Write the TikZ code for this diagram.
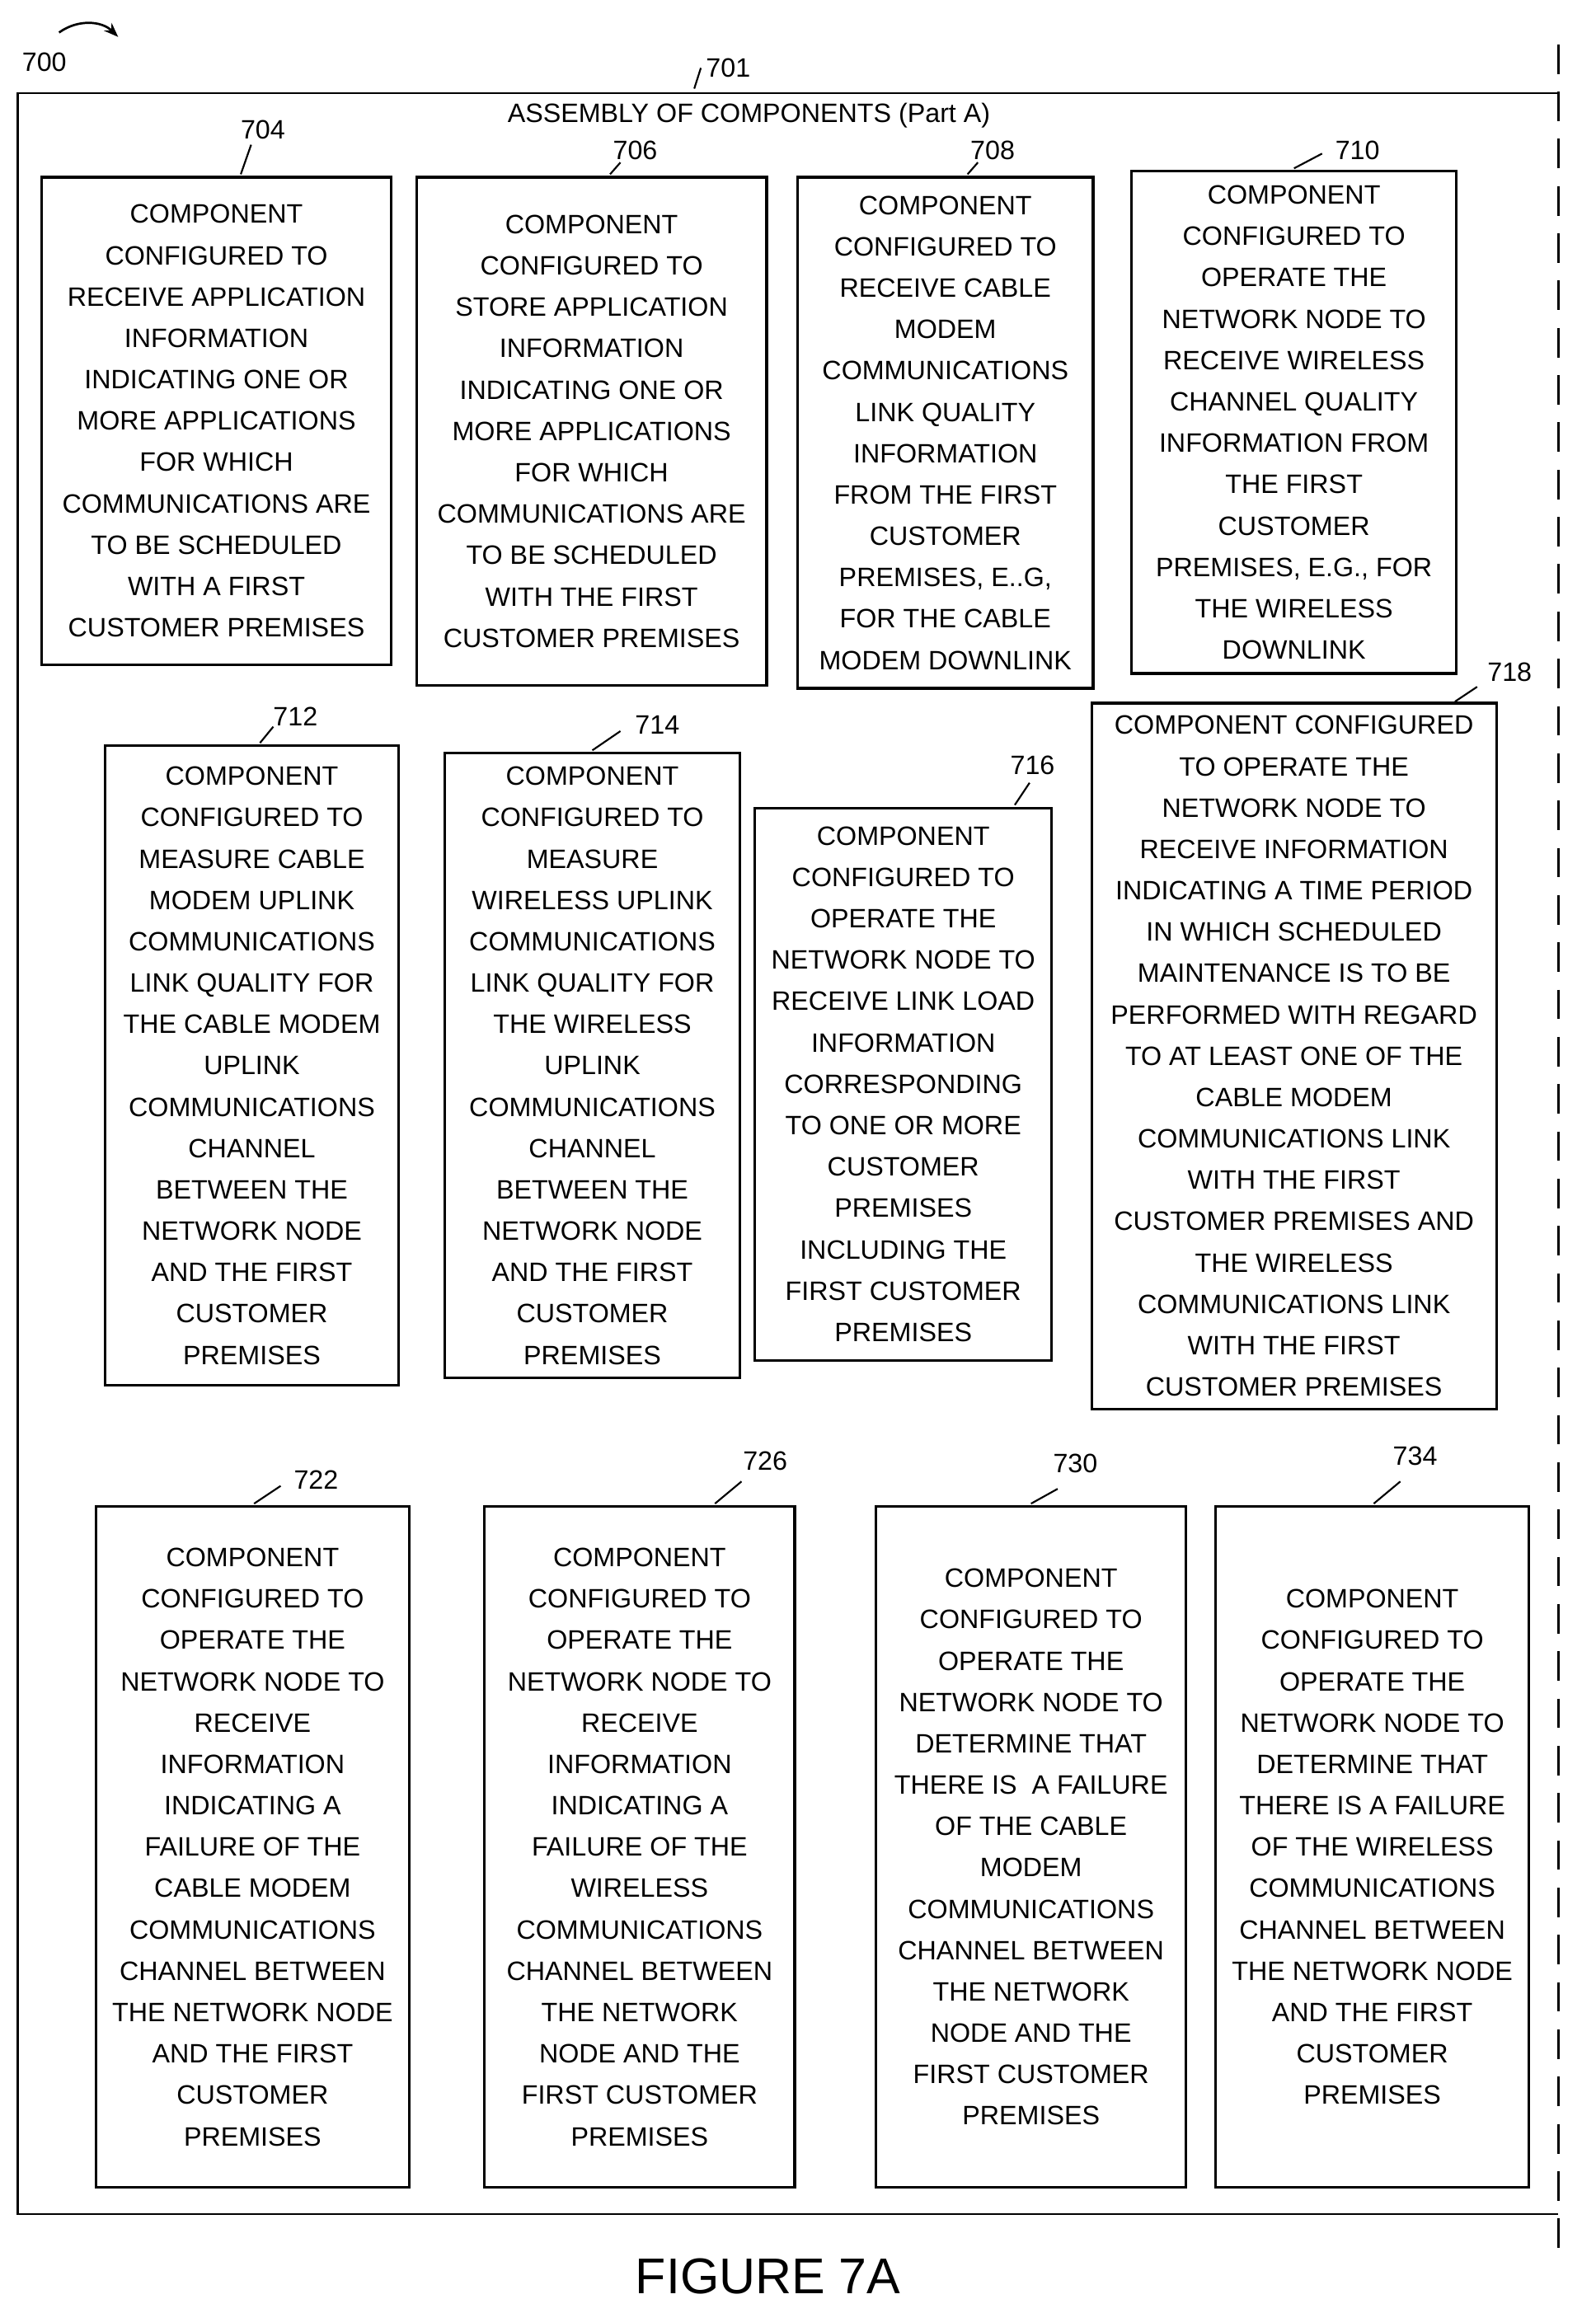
\documentclass[tikz,border=0pt]{standalone}
\usepackage{fontspec}
\setmainfont{Liberation Sans}
\usetikzlibrary{arrows.meta}
\begin{document}
\begin{tikzpicture}[x=1pt, y=-1pt, > = Stealth,
	comp/.style={draw, line width=1.8pt, align=center, inner sep=0pt,
		font=\fontsize{18}{28}\selectfont},
	refnum/.style={font=\fontsize{18}{22}\selectfont}]
	\useasboundingbox (0,0) rectangle (1080,1566);
	\draw[line width=1.5pt] (1055,63) -- (12,63) -- (12,1499) -- (1055,1499); % frame
	\draw[line width=1.5pt, dash pattern=on 20pt off 12pt] (1055,30) -- (1055,1525);
	\node[refnum] (n700) at (30,42) {700};
	\draw[->, line width=1.5pt] (40,22) to[bend left=40] (80,25);
	\node[refnum] (n701) at (493,46) {701};
	\draw[line width=1.2pt] (470,60) -- (n701.west);
	\node[refnum] (title) at (507,78) {ASSEMBLY OF COMPONENTS (Part A)};

	% row 1
	\node[comp, minimum width=237, minimum height=330] (c704) at (146.5,285) {COMPONENT\\CONFIGURED TO\\RECEIVE APPLICATION\\INFORMATION\\INDICATING ONE OR\\MORE APPLICATIONS\\FOR WHICH\\COMMUNICATIONS ARE\\TO BE SCHEDULED\\WITH A FIRST\\CUSTOMER PREMISES};
	\node[comp, minimum width=237, minimum height=344] (c706) at (400.5,292) {COMPONENT\\CONFIGURED TO\\STORE APPLICATION\\INFORMATION\\INDICATING ONE OR\\MORE APPLICATIONS\\FOR WHICH\\COMMUNICATIONS ARE\\TO BE SCHEDULED\\WITH THE FIRST\\CUSTOMER PREMISES};
	\node[comp, minimum width=200, minimum height=346] (c708) at (640,293) {COMPONENT\\CONFIGURED TO\\RECEIVE CABLE\\MODEM\\COMMUNICATIONS\\LINK QUALITY\\INFORMATION\\FROM THE FIRST\\CUSTOMER\\PREMISES, E..G,\\FOR THE CABLE\\MODEM DOWNLINK};
	\node[comp, minimum width=220, minimum height=340] (c710) at (876,286) {COMPONENT\\CONFIGURED TO\\OPERATE THE\\NETWORK NODE TO\\RECEIVE WIRELESS\\CHANNEL QUALITY\\INFORMATION FROM\\THE FIRST\\CUSTOMER\\PREMISES, E.G., FOR\\THE WIRELESS\\DOWNLINK};
	% row 2
	\node[comp, minimum width=199, minimum height=433] (c712) at (170.5,721.5) {COMPONENT\\CONFIGURED TO\\MEASURE CABLE\\MODEM UPLINK\\COMMUNICATIONS\\LINK QUALITY FOR\\THE CABLE MODEM\\UPLINK\\COMMUNICATIONS\\CHANNEL\\BETWEEN THE\\NETWORK NODE\\AND THE FIRST\\CUSTOMER\\PREMISES};
	\node[comp, minimum width=200, minimum height=423] (c714) at (401,721.5) {COMPONENT\\CONFIGURED TO\\MEASURE\\WIRELESS UPLINK\\COMMUNICATIONS\\LINK QUALITY FOR\\THE WIRELESS\\UPLINK\\COMMUNICATIONS\\CHANNEL\\BETWEEN THE\\NETWORK NODE\\AND THE FIRST\\CUSTOMER\\PREMISES};
	\node[comp, minimum width=201, minimum height=374] (c716) at (611.5,734) {COMPONENT\\CONFIGURED TO\\OPERATE THE\\NETWORK NODE TO\\RECEIVE LINK LOAD\\INFORMATION\\CORRESPONDING\\TO ONE OR MORE\\CUSTOMER\\PREMISES\\INCLUDING THE\\FIRST CUSTOMER\\PREMISES};
	\node[comp, minimum width=274, minimum height=478] (c718) at (876,715) {COMPONENT CONFIGURED\\TO OPERATE THE\\NETWORK NODE TO\\RECEIVE INFORMATION\\INDICATING A TIME PERIOD\\IN WHICH SCHEDULED\\MAINTENANCE IS TO BE\\PERFORMED WITH REGARD\\TO AT LEAST ONE OF THE\\CABLE MODEM\\COMMUNICATIONS LINK\\WITH THE FIRST\\CUSTOMER PREMISES AND\\THE WIRELESS\\COMMUNICATIONS LINK\\WITH THE FIRST\\CUSTOMER PREMISES};
	% row 3
	\node[comp, minimum width=212, minimum height=461] (c722) at (171,1250.5) {COMPONENT\\CONFIGURED TO\\OPERATE THE\\NETWORK NODE TO\\RECEIVE\\INFORMATION\\INDICATING A\\FAILURE OF THE\\CABLE MODEM\\COMMUNICATIONS\\CHANNEL BETWEEN\\THE NETWORK NODE\\AND THE FIRST\\CUSTOMER\\PREMISES};
	\node[comp, minimum width=210, minimum height=461] (c726) at (433,1250.5) {COMPONENT\\CONFIGURED TO\\OPERATE THE\\NETWORK NODE TO\\RECEIVE\\INFORMATION\\INDICATING A\\FAILURE OF THE\\WIRELESS\\COMMUNICATIONS\\CHANNEL BETWEEN\\THE NETWORK\\NODE AND THE\\FIRST CUSTOMER\\PREMISES};
	\node[comp, minimum width=210, minimum height=461] (c730) at (698,1250.5) {COMPONENT\\CONFIGURED TO\\OPERATE THE\\NETWORK NODE TO\\DETERMINE THAT\\THERE IS\ \ A FAILURE\\OF THE CABLE\\MODEM\\COMMUNICATIONS\\CHANNEL BETWEEN\\THE NETWORK\\NODE AND THE\\FIRST CUSTOMER\\PREMISES};
	\node[comp, minimum width=212, minimum height=461] (c734) at (929,1250.5) {COMPONENT\\CONFIGURED TO\\OPERATE THE\\NETWORK NODE TO\\DETERMINE THAT\\THERE IS A FAILURE\\OF THE WIRELESS\\COMMUNICATIONS\\CHANNEL BETWEEN\\THE NETWORK NODE\\AND THE FIRST\\CUSTOMER\\PREMISES};

	% reference numerals
	\foreach \n/\x/\y/\lx/\ly/\ex/\ey in {704/178/88/170/98/163/118, 706/430/102/420/110/413/118,
		708/672/102/662/110/655/118, 710/919/102/895/104/876/114, 712/200/485/185/492/176/503,
		714/445/491/420/495/401/508, 716/699/518/697/530/687/545, 718/1022/455/1000/465/985/475,
		722/214/1002/190/1006/172/1018, 726/518/989/502/1003/484/1018, 730/728/991/716/1008/698/1018,
		734/958/986/948/1003/930/1018}
	{
		\node[refnum] (r\n) at (\x,\y) {\n};
		\draw[line width=1.2pt] (\lx,\ly) -- (\ex,\ey);
	}
	\node[font=\fontsize{34}{40}\selectfont] (fig) at (520,1541) {FIGURE 7A};
\end{tikzpicture}
\end{document}
